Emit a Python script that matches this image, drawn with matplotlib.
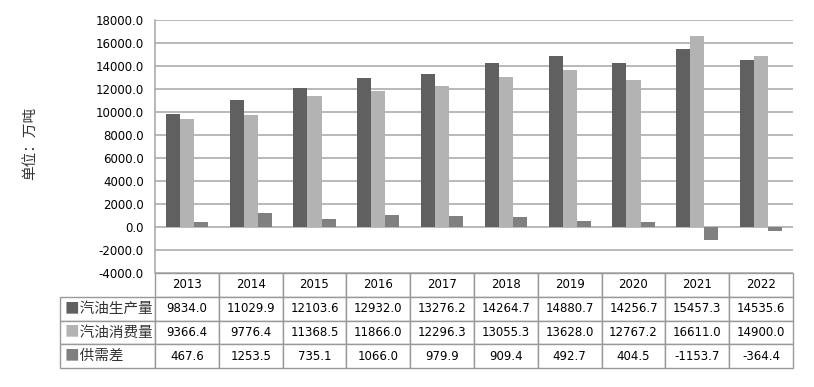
import numpy as np
import matplotlib
matplotlib.use('Agg')
import matplotlib.pyplot as plt

plt.rcParams['font.family'] = ['DejaVu Sans', 'Noto Sans CJK SC']

YEARS = ['2013', '2014', '2015', '2016', '2017', '2018', '2019', '2020', '2021', '2022']
SERIES = ['汽油生产量', '汽油消费量', '供需差']
PRODUCTION = [9834.0, 11029.9, 12103.6, 12932.0, 13276.2, 14264.7, 14880.7, 14256.7, 15457.3, 14535.6]
CONSUMPTION = [9366.4, 9776.4, 11368.5, 11866.0, 12296.3, 13055.3, 13628.0, 12767.2, 16611.0, 14900.0]
GAP = [467.6, 1253.5, 735.1, 1066.0, 979.9, 909.4, 492.7, 404.5, -1153.7, -364.4]
COLORS = ['#606060', '#b3b3b3', '#808080']

fig = plt.figure(figsize=(8.14, 3.87), dpi=100)
ax = fig.add_axes([155 / 814, 1 - 273 / 387, 638 / 814, 253 / 387])

x = np.arange(len(YEARS))
w = 0.22
for i, vals in enumerate([PRODUCTION, CONSUMPTION, GAP]):
    ax.bar(x + (i - 1) * w, vals, w, color=COLORS[i], edgecolor='none', zorder=3)

ax.set_xlim(-0.5, len(YEARS) - 0.5)
ax.set_ylim(-4000, 18000)
ax.set_yticks(np.arange(-4000, 18001, 2000))
ax.set_yticklabels(['%.1f' % v for v in np.arange(-4000, 18001, 2000)], fontsize=8.5)
ax.set_xticks([])
ax.tick_params(axis='y', length=0, pad=8)
ax.grid(axis='y', color='#a6a6a6', linewidth=1.1, zorder=0)
for s in ['top', 'right', 'bottom']:
    ax.spines[s].set_visible(False)
ax.spines['left'].set_color('#a6a6a6')
ax.spines['left'].set_linewidth(1.1)

# data table under the bars
cells = []
for name, vals in zip(SERIES, [PRODUCTION, CONSUMPTION, GAP]):
    cells.append(['\u3000' + name] + ['%.1f' % v for v in vals])
col_w = [95] + [63.8] * len(YEARS)
tab = ax.table(cellText=cells, colLabels=[''] + YEARS, colWidths=col_w,
               cellLoc='center', bbox=[-95 / 638, -95 / 253, 733 / 638, 95 / 253])
tab.auto_set_font_size(False)
tab.set_fontsize(8.5)
for (r, c), cell in tab.get_celld().items():
    cell.set_edgecolor('#999999')
    cell.set_linewidth(1.0)
    if r == 0 and c == 0:
        cell.visible_edges = ''
    if c == 0 and r > 0:
        cell.PAD = 0.05
        cell._loc = 'left'
        cell.get_text().set_ha('left')
        cell.get_text().set_fontsize(10.5)
        cell.get_text().set_family('Noto Sans CJK SC')
        cell.get_text().set_color('#333333')

# coloured legend squares in the row labels
lab_x = -95 / 638 + 0.05 * 95 / 638
for i in range(len(SERIES)):
    yc = -(24 + 12 + 23.7 * i) / 253
    ax.text(lab_x, yc, '■', transform=ax.transAxes, color=COLORS[i],
            fontsize=10.5, family='Noto Sans CJK SC', ha='left', va='center', clip_on=False)

fig.text(30 / 814, 1 - 143 / 387, '单位：万吨', rotation=90, ha='center', va='center',
         fontsize=10.5, family='Noto Sans CJK SC', color='#333333')

fig.savefig('out.png', dpi=100)
